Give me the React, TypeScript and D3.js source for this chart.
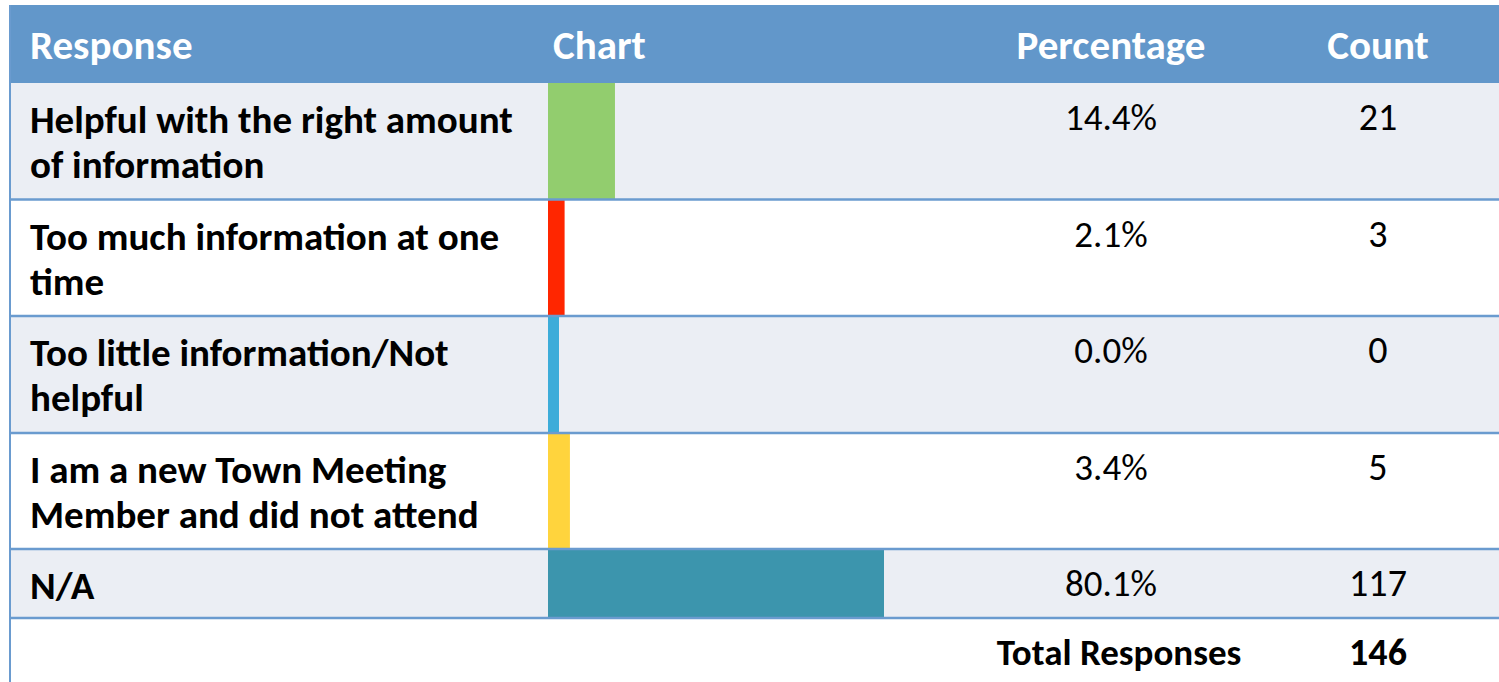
import React, { useEffect, useRef } from 'react';
import * as d3 from 'd3';

// survey results
const responses = [
  'Helpful with the right amount\nof information',
  'Too much information at one\ntime',
  'Too little information/Not\nhelpful',
  'I am a new Town Meeting\nMember and did not attend',
  'N/A',
];
const percentages = [14.4, 2.1, 0.0, 3.4, 80.1];
const counts = [21, 3, 0, 5, 117];
const barColors = ['#92CD6E', '#FF2600', '#3DACD9', '#FFD43D', '#3C95AD'];
const headers = ['Response', 'Chart', 'Percentage', 'Count'];
const totalLabel = 'Total Responses';
const totalCount = 146;

export default function App() {
  const ref = useRef<SVGSVGElement | null>(null);

  useEffect(() => {
    const el = ref.current;
    if (!el) return;
    const svg = d3.select(el);
    svg.selectAll('*').remove();

    const width = 1499;
    const height = 682;
    const left = 10;
    const headerTop = 5;
    const headerBottom = 83;
    const rowEdges = [83, 199.5, 316, 433, 549, 618];
    const font = 'Carlito, Calibri, Lato, sans-serif';
    const lineColor = '#6A9BCF';
    const barX = 548;
    const minBar = 11;
    const pctCenter = 1111;
    const countCenter = 1378;

    const x = d3.scaleLinear()
      .domain([0, d3.max(percentages) as number])
      .range([8, 336]);

    // header band
    svg.append('rect')
      .attr('x', left).attr('y', headerTop)
      .attr('width', width - left).attr('height', headerBottom - headerTop)
      .attr('fill', '#6297CA');

    const headerX = [30, 553, pctCenter, countCenter];
    const headerAnchor = ['start', 'start', 'middle', 'middle'];
    svg.append('g').selectAll('text')
      .data(headers)
      .join('text')
      .attr('x', (d, i) => headerX[i])
      .attr('y', 59)
      .attr('text-anchor', (d, i) => headerAnchor[i])
      .style('font-family', font)
      .style('font-weight', 700)
      .style('font-size', '41px')
      .attr('fill', '#fff')
      .text(d => d);

    // rows
    const rows = svg.append('g').selectAll('g')
      .data(responses.map((r, i) => ({ r, i })))
      .join('g');

    rows.append('rect')
      .attr('x', left)
      .attr('y', d => rowEdges[d.i])
      .attr('width', width - left)
      .attr('height', d => rowEdges[d.i + 1] - rowEdges[d.i])
      .attr('fill', d => d.i % 2 === 0 ? '#EBEEF4' : '#fff');

    rows.append('rect')
      .attr('x', barX)
      .attr('y', d => rowEdges[d.i])
      .attr('width', d => Math.max(minBar, x(percentages[d.i])))
      .attr('height', d => rowEdges[d.i + 1] - rowEdges[d.i])
      .attr('fill', d => barColors[d.i]);

    rows.each(function (d) {
      const g = d3.select(this);
      const top = rowEdges[d.i];
      const lines = d.r.split('\n');
      const t = g.append('text')
        .style('font-family', font)
        .style('font-weight', 700)
        .style('font-size', '39px')
        .attr('fill', '#000');
      lines.forEach((ln, k) => {
        t.append('tspan').attr('x', 30).attr('y', top + 50 + k * 45).text(ln);
      });
      g.append('text')
        .attr('x', pctCenter).attr('y', top + 47)
        .attr('text-anchor', 'middle')
        .style('font-family', font)
        .style('font-size', '37px')
        .attr('fill', '#000')
        .text(percentages[d.i].toFixed(1) + '%');
      g.append('text')
        .attr('x', countCenter).attr('y', top + 47)
        .attr('text-anchor', 'middle')
        .style('font-family', font)
        .style('font-size', '38px')
        .attr('fill', '#000')
        .text(counts[d.i]);
    });

    // total row
    svg.append('rect')
      .attr('x', left).attr('y', 618)
      .attr('width', width - left).attr('height', height - 618)
      .attr('fill', '#fff');
    svg.append('text')
      .attr('x', 1119).attr('y', 665)
      .attr('text-anchor', 'middle')
      .style('font-family', font).style('font-weight', 700).style('font-size', '37px')
      .text(totalLabel);
    svg.append('text')
      .attr('x', countCenter).attr('y', 665)
      .attr('text-anchor', 'middle')
      .style('font-family', font).style('font-weight', 700).style('font-size', '38px')
      .text(totalCount);

    // grid lines
    svg.append('g').selectAll('line')
      .data(rowEdges.slice(1))
      .join('line')
      .attr('x1', left).attr('x2', width)
      .attr('y1', d => d).attr('y2', d => d)
      .attr('stroke', lineColor)
      .attr('stroke-width', 2.5);
    svg.append('line')
      .attr('x1', left).attr('x2', left)
      .attr('y1', headerTop).attr('y2', height)
      .attr('stroke', lineColor)
      .attr('stroke-width', 2);
  }, []);

  return (
    <svg ref={ref} width={1499} height={682}
      style={{ position: 'absolute', left: 0, top: 0, background: '#fff' }} />
  );
}
